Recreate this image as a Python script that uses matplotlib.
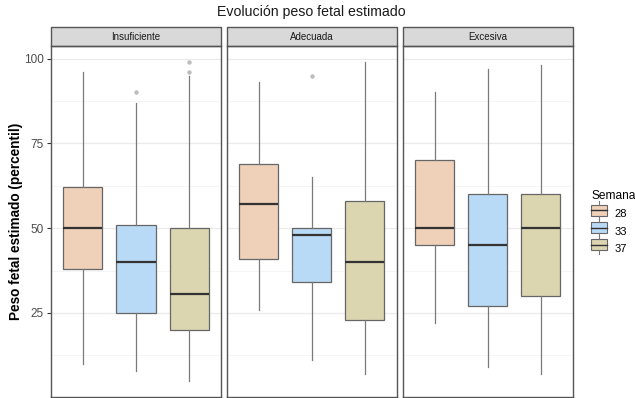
import matplotlib.pyplot as plt
from matplotlib.patches import Rectangle
from matplotlib.lines import Line2D
from matplotlib.legend_handler import HandlerBase

plt.rcParams['font.family'] = ['Liberation Sans', 'DejaVu Sans']

grupos = ["Insuficiente", "Adecuada", "Excesiva"]
semanas = ["28", "33", "37"]
colores = ["#EFD0B9", "#B9DAF6", "#DBD5B0"]

# one row per group, one value per week (28, 33, 37)
bigote_inf = [[10, 8, 5], [26, 11, 7], [22, 9, 7]]
q1 = [[38, 25, 20], [41, 34, 23], [45, 27, 30]]
mediana = [[50, 40, 30.5], [57, 48, 40], [50, 45, 50]]
q3 = [[62, 51, 50], [69, 50, 58], [70, 60, 60]]
bigote_sup = [[96, 87, 95], [93, 65, 99], [90, 97, 98]]
atipicos = [[[], [90], [96, 99]], [[], [95], []], [[], [], []]]


class BoxKey(HandlerBase):
    # legend key that looks like a tiny boxplot
    def create_artists(self, legend, orig, xd, yd, w, h, fontsize, trans):
        cx = xd + w / 2
        r = Rectangle((xd, yd), w, h, facecolor=orig.get_facecolor(),
                      edgecolor="#666666", lw=0.8, transform=trans)
        med = Line2D([xd, xd + w], [yd + h / 2] * 2, color="#333333", lw=1.0, transform=trans)
        up = Line2D([cx, cx], [yd + h, yd + h + 2.5], color="#777777", lw=0.8, transform=trans)
        dn = Line2D([cx, cx], [yd - 2.5, yd], color="#777777", lw=0.8, transform=trans)
        return [r, med, up, dn]


fig = plt.figure(figsize=(6.35, 3.98), dpi=100)
lefts = [51, 226.7, 402.7]
pw = 170
bottom = 1 - 396.7 / 398
height = (396.7 - 46) / 398

axes = []
for k, g in enumerate(grupos):
    ax = fig.add_axes([lefts[k] / 635, bottom, pw / 635, height])
    axes.append(ax)
    stats = []
    for j in range(3):
        stats.append(dict(whislo=bigote_inf[k][j], q1=q1[k][j], med=mediana[k][j],
                          q3=q3[k][j], whishi=bigote_sup[k][j], fliers=atipicos[k][j]))
    bp = ax.bxp(stats, positions=[0, 1, 2], widths=0.735, patch_artist=True,
                showcaps=False,
                boxprops=dict(edgecolor="#666666", linewidth=0.9),
                whiskerprops=dict(color="#7a7a7a", linewidth=0.9),
                medianprops=dict(color="#333333", linewidth=1.6),
                flierprops=dict(marker="o", markersize=3.2, markerfacecolor="#BDBDBD",
                                markeredgecolor="none"))
    for patch, c in zip(bp["boxes"], colores):
        patch.set_facecolor(c)
    ax.set_xlim(-0.6, 2.6)
    ax.set_ylim(0.3, 103.7)
    ax.set_yticks([25, 50, 75, 100])
    ax.set_yticks([12.5, 37.5, 62.5, 87.5], minor=True)
    ax.grid(True, which="major", color="#EBEBEB", lw=0.9)
    ax.grid(True, which="minor", color="#F4F4F4", lw=0.6)
    ax.set_axisbelow(True)
    ax.set_xticks([])
    for s in ax.spines.values():
        s.set_color("#555555")
        s.set_linewidth(1.0)
    ax.tick_params(axis="y", which="minor", length=0)
    if k == 0:
        ax.tick_params(axis="y", which="major", length=3, color="#333333",
                       labelsize=8.5, labelcolor="#4D4D4D", pad=2)
    else:
        ax.tick_params(axis="y", which="major", length=0, labelleft=False)
    # facet strip on top
    sh = 19 / 350.7
    ax.add_patch(Rectangle((0, 1), 1, sh, transform=ax.transAxes, clip_on=False,
                           facecolor="#D9D9D9", edgecolor="#555555", lw=1.0))
    ax.text(0.5, 1 + sh / 2, g, transform=ax.transAxes, ha="center", va="center",
            fontsize=7, color="#1A1A1A")

axes[0].set_ylabel("Peso fetal estimado (percentil)", fontsize=9.8, fontweight="bold",
                   labelpad=1)

fig.text(311.5 / 635, 1 - 12 / 398, "Evolución peso fetal estimado", ha="center",
         va="center", fontsize=10.2, color="#1A1A1A")

handles = [Rectangle((0, 0), 1, 1, facecolor=c) for c in colores]
fig.legend(handles, semanas, handler_map={Rectangle: BoxKey()}, title="Semana",
           loc="upper left", bbox_to_anchor=(581 / 635, 1 - 180 / 398), frameon=False,
           fontsize=8, title_fontsize=8.6, handlelength=1.45, handleheight=1.15,
           labelspacing=0.55, handletextpad=0.7, alignment="left")

fig.savefig("out.png", dpi=100)
